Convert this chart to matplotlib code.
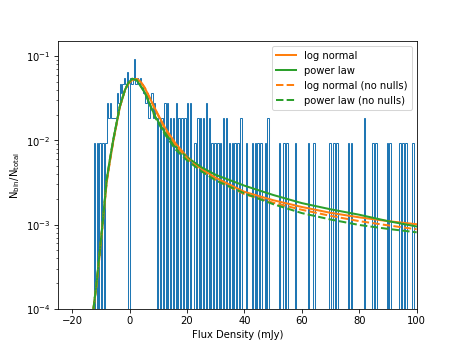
import numpy as np
import matplotlib
matplotlib.use("Agg")
import matplotlib.pyplot as plt

# histogram: centres of the non-empty 0.5 mJy bins and their counts
n_total = 108
bin_width = 0.5
flux = [-12.25, -11.25, -10.25, -9.25, -8.25,
        -7.75, -7.25, -6.75, -6.25, -5.75, -5.25, -4.75, -4.25, -3.75, -3.25, -2.75, -2.25,
        -1.75, -1.25, -0.75,
        0.25, 0.75, 1.25, 1.75, 2.25, 2.75, 3.25, 3.75, 4.25, 4.75, 5.25, 5.75, 6.25, 6.75,
        7.25, 7.75, 8.25, 8.75,
        9.25, 10.25, 11.25, 12.25, 13.25, 14.25, 15.25, 16.25, 17.25, 18.25, 19.25, 20.25, 21.25,
        22.75, 23.75, 24.75, 25.75, 26.75, 27.75, 28.75, 29.75, 30.75, 31.75, 32.75, 33.75,
        34.75, 35.75, 36.75, 37.75, 38.75,
        40.75, 42.75, 43.75, 44.75, 45.75, 47.25, 48.25,
        52.25, 53.75, 54.75, 57.75, 62.25, 64.25, 69.75, 71.25, 72.25, 76.25, 77.25, 81.75,
        84.75, 85.75, 89.75, 90.75, 94.25, 95.25, 96.25, 98.75]
counts = [1, 1, 1, 1, 1,
          3, 2, 3, 2, 2, 2, 2, 4, 3, 5, 4, 5,
          6, 5, 7,
          6, 5, 6, 10, 5, 6, 5, 6, 5, 4, 4, 3, 4, 2,
          3, 4, 2, 3,
          2, 2, 2, 3, 3, 2, 2, 3, 2, 2, 2, 3, 3,
          1, 2, 2, 2, 3, 2, 1, 1, 1, 1, 2, 2,
          1, 1, 1, 1, 2,
          1, 1, 1, 1, 1, 1, 2,
          1, 1, 1, 1, 1, 1, 1, 1, 1, 1, 1, 2,
          1, 1, 1, 1, 1, 1, 1, 1]

# fitted curves (flux in mJy, N_bin/N_total)
lognorm_x = [-12.6, -11.4, -10.35, -9.3, -8.0, -6.9, -5.7, -3.4, -1.6, -0.3, 1.2, 2.5, 3.8,
             5.3, 7.0, 8.8, 12.3, 16.0, 20.0, 25.0, 30.0, 40.0, 50.0, 60.0, 70.0, 80.0, 90.0, 100.0]
lognorm_y = [1.0e-4, 2.1e-4, 4.8e-4, 1.1e-3, 3.2e-3, 5.6e-3, 9.8e-3, 2.5e-2, 4.0e-2, 4.8e-2, 5.3e-2,
             5.35e-2, 5.0e-2, 4.2e-2, 3.2e-2, 2.4e-2, 1.42e-2, 9.2e-3, 6.4e-3, 4.6e-3, 3.6e-3,
             2.45e-3, 1.95e-3, 1.62e-3, 1.38e-3, 1.22e-3, 1.1e-3, 1.01e-3]
powlaw_x = [-12.6, -11.4, -10.35, -9.3, -8.0, -6.9, -5.7, -3.4, -1.6, -0.5, 0.9, 2.5,
            5.3, 7.0, 8.8, 12.3, 16.0, 20.0, 25.0, 30.0, 40.0, 50.0, 60.0, 70.0, 80.0, 90.0, 100.0]
powlaw_y = [1.0e-4, 2.2e-4, 5.0e-4, 1.14e-3, 3.4e-3, 5.9e-3, 1.02e-2, 2.55e-2, 4.0e-2, 4.8e-2,
            5.4e-2, 5.2e-2, 3.7e-2, 2.7e-2, 1.95e-2, 1.24e-2, 8.4e-3, 6.3e-3, 4.8e-3, 3.9e-3,
            2.9e-3, 2.25e-3, 1.8e-3, 1.52e-3, 1.31e-3, 1.1e-3, 9.5e-4]
lognorm_nn_x = lognorm_x
lognorm_nn_y = [1.0e-4, 2.1e-4, 4.8e-4, 1.1e-3, 3.2e-3, 5.6e-3, 9.8e-3, 2.5e-2, 4.0e-2, 4.8e-2,
                5.3e-2, 5.35e-2, 5.0e-2, 4.2e-2, 3.2e-2, 2.35e-2, 1.38e-2, 8.9e-3, 6.1e-3,
                4.4e-3, 3.4e-3, 2.3e-3, 1.82e-3, 1.5e-3, 1.27e-3, 1.1e-3, 9.8e-4, 8.8e-4]
powlaw_nn_x = powlaw_x
powlaw_nn_y = [1.0e-4, 2.2e-4, 5.0e-4, 1.14e-3, 3.4e-3, 5.9e-3, 1.02e-2, 2.55e-2, 4.0e-2, 4.8e-2,
               5.4e-2, 5.2e-2, 3.7e-2, 2.7e-2, 1.9e-2, 1.18e-2, 7.8e-3, 5.8e-3, 4.3e-3, 3.35e-3,
               2.35e-3, 1.75e-3, 1.37e-3, 1.15e-3, 9.9e-4, 8.9e-4, 8.1e-4]

edges = np.arange(-14, 102 + bin_width, bin_width)
weights = np.array(counts) / n_total

fig, ax = plt.subplots(figsize=(6.4, 4.8), dpi=463 / 6.4)

ax.hist(flux, bins=edges, weights=weights, histtype="step", color="C0")
ax.plot(lognorm_x, lognorm_y, color="C1", lw=2, label="log normal")
ax.plot(powlaw_x, powlaw_y, color="C2", lw=2, label="power law")
ax.plot(lognorm_nn_x, lognorm_nn_y, color="C1", lw=2, ls="--", label="log normal (no nulls)")
ax.plot(powlaw_nn_x, powlaw_nn_y, color="C2", lw=2, ls="--", label="power law (no nulls)")

ax.set_yscale("log")
ax.set_xlim(-25, 100)
ax.set_ylim(1e-4, 0.15)
ax.set_xlabel("Flux Density (mJy)")
ax.set_ylabel(r"N$_{\rm bin}$/N$_{\rm total}$")
ax.legend(loc="upper right")

fig.savefig("out.png")
